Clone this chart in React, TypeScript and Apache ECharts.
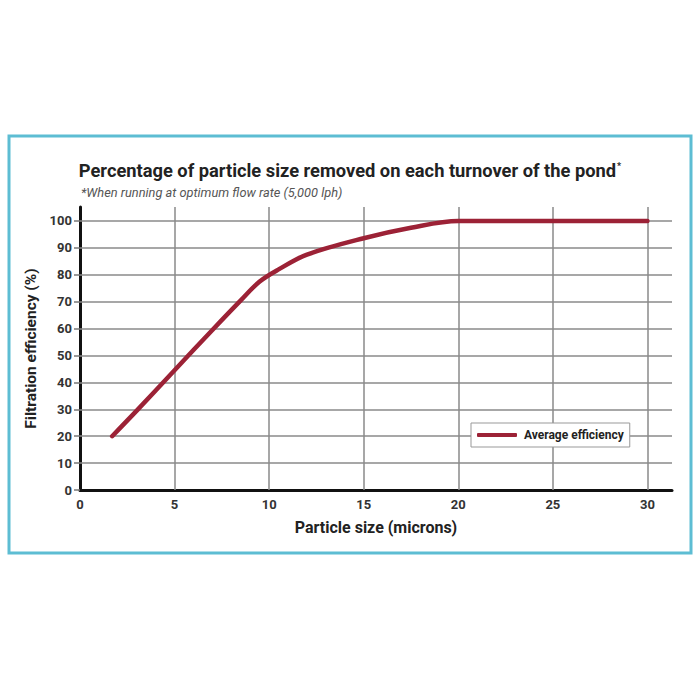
import React, { useEffect, useRef } from "react";
import * as echarts from "echarts";

const particleSize = [1.7, 3, 5, 7, 8.5, 9.5, 10.5, 12, 15, 17.5, 20, 25, 30];
const efficiency = [20, 29.5, 44.5, 59.5, 70.5, 77.5, 82, 87.5, 93.6, 97.5, 100, 100, 100];
const xTicks = [0, 5, 10, 15, 20, 25, 30];
const yTicks = [0, 10, 20, 30, 40, 50, 60, 70, 80, 90, 100];
const xGrid = [5, 10, 15, 20, 25, 30];
const yGrid = [10, 20, 30, 40, 50, 60, 70, 80, 90, 100];
const seriesName = "Average efficiency";

const FONT = "'Liberation Sans Narrow', 'Roboto', sans-serif";

export default function App() {
  const ref = useRef<HTMLDivElement>(null);
  useEffect(() => {
    if (!ref.current) return;
    const chart = echarts.init(ref.current, undefined, { renderer: "svg" });
    const data = particleSize.map((x, i) => [x, efficiency[i]]);
    chart.setOption({
      animation: false,
      backgroundColor: "#ffffff",
      textStyle: { fontFamily: FONT },
      title: [
        {
          text: "Percentage of particle size removed on each turnover of the pond{s|*}",
          left: 345,
          textAlign: "center",
          top: 156,
          textStyle: {
            fontFamily: FONT,
            fontSize: 18.3,
            fontWeight: "bold",
            color: "#222",
            rich: { s: { fontSize: 9, fontWeight: "bold", color: "#222", padding: [0, 0, 9, 1], fontFamily: FONT } },
          },
        },
        {
          text: "*When running at optimum flow rate (5,000 lph)",
          left: 76,
          top: 181,
          textStyle: { fontFamily: FONT, fontSize: 12.8, fontStyle: "italic", fontWeight: "normal", color: "#555" },
        },
      ],
      graphic: [
        {
          type: "rect",
          shape: { x: 9, y: 136, width: 682, height: 417 },
          style: { fill: "none", stroke: "#5dbdd3", lineWidth: 3 },
          silent: true,
        },
      ],
      legend: {
        data: [seriesName],
        left: 471,
        top: 423,
        z: 10,
        orient: "horizontal",
        icon: "roundRect",
        itemWidth: 40,
        itemHeight: 4,
        itemGap: 8,
        padding: [6, 6, 6, 6],
        borderColor: "#999",
        borderWidth: 1,
        backgroundColor: "#fff",
        textStyle: { fontFamily: FONT, fontSize: 12, fontWeight: "bold", color: "#222", padding: [0, 0, 0, 2] },
      },
      grid: { left: 80, right: 28, top: 207, bottom: 210, containLabel: false },
      xAxis: {
        type: "value",
        min: 0,
        max: 31.3,
        name: "Particle size (microns)",
        nameLocation: "middle",
        nameGap: 29,
        nameTextStyle: { fontFamily: FONT, fontSize: 16, fontWeight: "bold", color: "#222" },
        axisLine: { show: true, lineStyle: { color: "#111", width: 3 } },
        axisTick: { show: false },
        splitLine: { show: false },
        axisLabel: {
          customValues: xTicks,
          margin: 8,
          fontFamily: FONT,
          fontSize: 13,
          fontWeight: "bold",
          color: "#333",
        },
      },
      yAxis: {
        type: "value",
        min: 0,
        max: 105.2,
        name: "Filtration efficiency (%)",
        nameLocation: "middle",
        nameGap: 40,
        nameRotate: 90,
        nameTextStyle: { fontFamily: FONT, fontSize: 15.5, fontWeight: "bold", color: "#222" },
        axisLine: { show: true, lineStyle: { color: "#111", width: 3 } },
        axisTick: { show: true, customValues: yTicks, length: 6, lineStyle: { color: "#777", width: 1.5 } },
        splitLine: { show: false },
        axisLabel: {
          customValues: yTicks,
          margin: 8,
          fontFamily: FONT,
          fontSize: 13,
          fontWeight: "bold",
          color: "#333",
        },
      },
      series: [
        {
          type: "line",
          name: "grid",
          data: [],
          z: 1,
          silent: true,
          markLine: {
            silent: true,
            z: 1,
            symbol: "none",
            label: { show: false },
            lineStyle: { color: "#8a8a8a", width: 1.5, type: "solid" },
            emphasis: { disabled: true },
            data: [
              ...xGrid.map((v) => ({ xAxis: v })),
              ...yGrid.map((v) => ({ yAxis: v })),
            ],
          },
        },
        {
          type: "line",
          name: seriesName,
          data,
          z: 5,
          smooth: 0.35,
          showSymbol: false,
          symbol: "none",
          lineStyle: { color: "#9c2236", width: 4.5, cap: "round", join: "round" },
          itemStyle: { color: "#9c2236" },
        },
      ],
    });
    return () => chart.dispose();
  }, []);
  return (
    <div
      ref={ref}
      style={{ position: "fixed", left: 0, top: 0, width: 700, height: 700 }}
    />
  );
}
